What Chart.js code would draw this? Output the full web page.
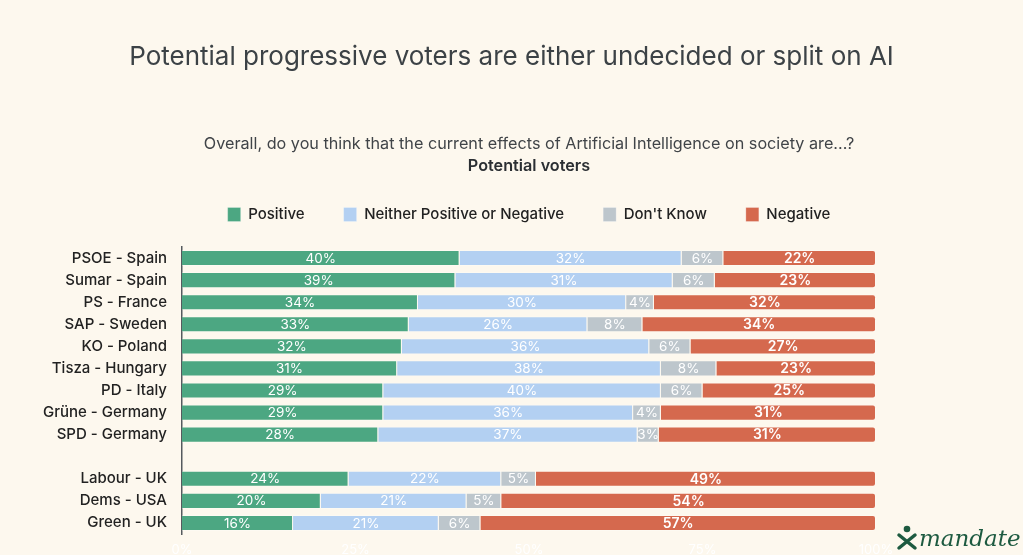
<!DOCTYPE html>
<html lang="en">
<head>
<meta charset="UTF-8">
<title>Potential progressive voters and AI</title>
<script src="https://cdn.jsdelivr.net/npm/chart.js@4.4.1/dist/chart.umd.min.js"></script>
<style>
  html, body { margin: 0; padding: 0; background: #fdf8ee; }
  .chart-box { width: 1023px; height: 555px; position: relative; }
</style>
</head>
<body>
<div class="chart-box"><canvas id="aiChart"></canvas></div>
<script>
const titleText = 'Potential progressive voters are either undecided or split on AI';
const questionText = 'Overall, do you think that the current effects of Artificial Intelligence on society are...?';
const groupText = 'Potential voters';

// empty category makes the gap between the two groups
const categories = ['PSOE - Spain', 'Sumar - Spain', 'PS - France', 'SAP - Sweden', 'KO - Poland',
  'Tisza - Hungary', 'PD - Italy', 'Grüne - Germany', 'SPD - Germany', '',
  'Labour - UK', 'Dems - USA', 'Green - UK'];
const positive = [40, 39, 34, 33, 32, 31, 29, 29, 28, null, 24, 20, 16];
const neither  = [32, 31, 30, 26, 36, 38, 40, 36, 37, null, 22, 21, 21];
const dontKnow = [6, 6, 4, 8, 6, 8, 6, 4, 3, null, 5, 5, 6];
const negative = [22, 23, 32, 34, 27, 23, 25, 31, 31, null, 49, 54, 57];
const xTicks = ['0%', '25%', '50%', '75%', '100%'];

const seriesNames = ['Positive', 'Neither Positive or Negative', "Don't Know", 'Negative'];
const seriesColors = ['#4ca782', '#b3d0f2', '#bdc6cc', '#d5694e'];
const series = [positive, neither, dontKnow, negative];

// rounded answers don't always add to 100, so each row is scaled to fill the bar
const rowTotals = categories.map((_, i) => series.reduce((s, arr) => s + (arr[i] || 0), 0));
const toShare = arr => arr.map((v, i) => v === null ? null : v / rowTotals[i] * 100);

const FONT = 'Inter, "Noto Sans", sans-serif';

const barLabels = {
  id: 'barLabels',
  afterDatasetsDraw(chart) {
    const ctx = chart.ctx;
    ctx.save();
    ctx.textAlign = 'center';
    ctx.textBaseline = 'middle';
    ctx.fillStyle = '#ffffff';
    chart.data.datasets.forEach((ds, k) => {
      ctx.font = (k === 3 ? '600 14px ' : '400 13.5px ') + FONT;
      chart.getDatasetMeta(k).data.forEach((bar, i) => {
        const v = series[k][i];
        if (v === null) return;
        const p = bar.getCenterPoint();
        ctx.fillText(v + '%', p.x, p.y + 0.5);
      });
    });
    ctx.restore();
  }
};

const header = {
  id: 'header',
  afterDraw(chart) {
    const ctx = chart.ctx;
    const mid = (chart.chartArea.left + chart.chartArea.right) / 2;
    ctx.save();
    ctx.textAlign = 'center';
    ctx.textBaseline = 'middle';
    ctx.fillStyle = '#3c4246';
    ctx.font = '400 26px ' + FONT;
    ctx.fillText(titleText, chart.width / 2, 57);
    ctx.fillStyle = '#404448';
    ctx.font = '400 16.2px ' + FONT;
    ctx.fillText(questionText, mid, 144);
    ctx.fillStyle = '#2b2f33';
    ctx.font = '600 16.2px ' + FONT;
    ctx.fillText(groupText, mid, 166);

    // mandate logo
    ctx.strokeStyle = '#1d5a40';
    ctx.fillStyle = '#1d5a40';
    ctx.lineWidth = 3.5;
    ctx.lineCap = 'round';
    ctx.beginPath();
    ctx.moveTo(899, 535); ctx.lineTo(915, 548);
    ctx.moveTo(915, 535); ctx.lineTo(899, 548);
    ctx.stroke();
    ctx.beginPath();
    ctx.arc(907, 529, 3.3, 0, Math.PI * 2);
    ctx.fill();
    ctx.textAlign = 'left';
    ctx.textBaseline = 'alphabetic';
    ctx.font = 'italic 23px "DejaVu Serif", serif';
    ctx.fillText('mandate', 919, 546);
    ctx.restore();
  }
};

new Chart(document.getElementById('aiChart'), {
  type: 'bar',
  data: {
    labels: categories,
    datasets: series.map((arr, k) => ({
      label: seriesNames[k],
      data: toShare(arr),
      backgroundColor: seriesColors[k],
      borderColor: 'rgba(255,255,255,0.25)',
      borderWidth: 1,
      borderRadius: k === 3 ? 3 : 0,
      barPercentage: 0.73,
      categoryPercentage: 1
    }))
  },
  options: {
    indexAxis: 'y',
    responsive: true,
    maintainAspectRatio: false,
    animation: false,
    layout: { padding: { top: 168, right: 147, bottom: 0, left: 0 } },
    scales: {
      x: {
        stacked: true,
        min: 0,
        max: 100,
        grid: { display: false, drawTicks: false },
        border: { display: false },
        ticks: {
          stepSize: 25,
          padding: 8,
          color: '#ffffff',
          font: { family: FONT, size: 13 },
          callback: (v, i) => xTicks[i]
        },
        afterFit(s) { s.height = 21; }
      },
      // spacer between legend and bars
      xGap: {
        type: 'linear',
        position: 'top',
        axis: 'x',
        grid: { display: false, drawTicks: false },
        border: { display: false },
        ticks: { display: false },
        afterFit(s) { s.height = 15; }
      },
      y: {
        stacked: true,
        // tick marks hidden, their length only keeps the labels off the axis
        grid: { display: false, drawTicks: true, tickLength: 12 },
        border: { display: true, color: '#555a5e', width: 1.5 },
        ticks: { autoSkip: false, padding: 3, color: '#222222', font: { family: FONT, size: 15, weight: '500' } },
        afterFit(s) { s.width = 182; }
      }
    },
    plugins: {
      legend: {
        position: 'top',
        fullSize: false,
        labels: {
          boxWidth: 13,
          boxHeight: 14,
          padding: 39,
          color: '#222222',
          font: { family: FONT, size: 15, weight: '500' }
        }
      },
      tooltip: { enabled: false }
    }
  },
  plugins: [barLabels, header]
});
</script>
</body>
</html>
